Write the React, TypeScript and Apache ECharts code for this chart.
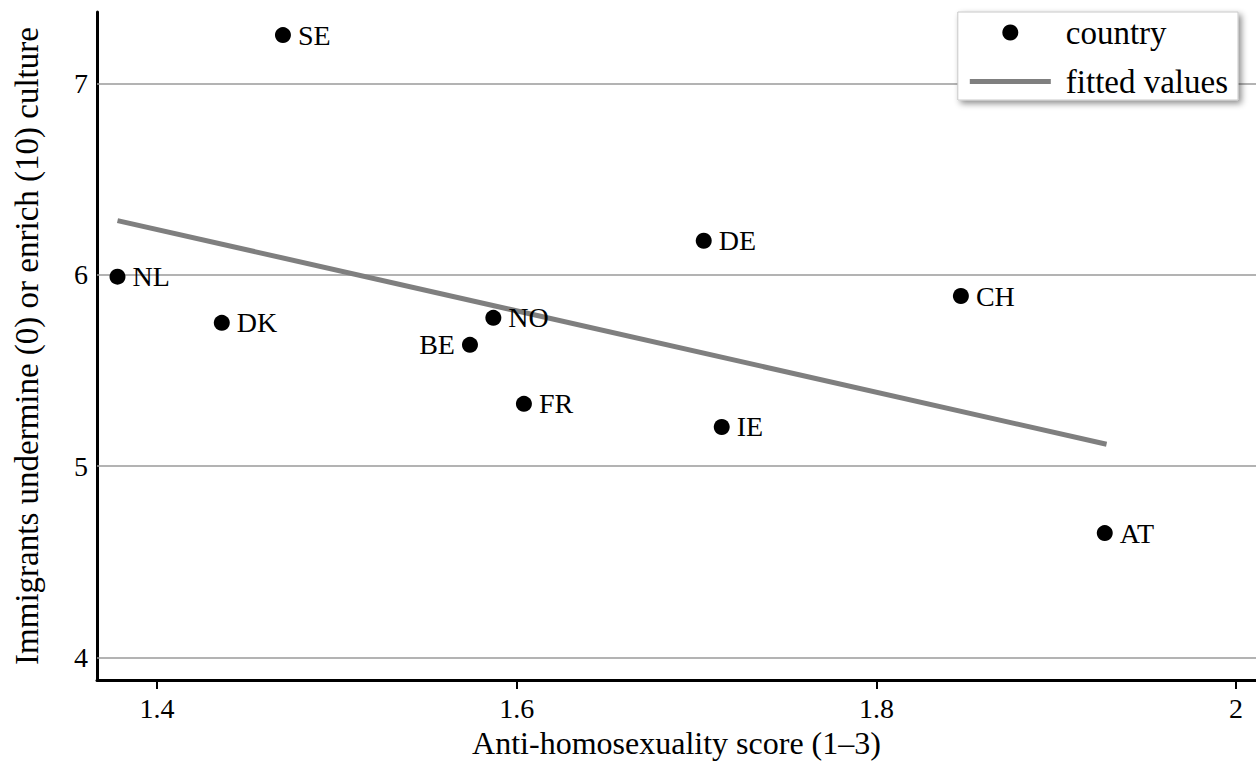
import React, { useEffect, useRef } from "react";
import * as echarts from "echarts";

const countries = ["SE", "NL", "DK", "BE", "NO", "FR", "DE", "IE", "CH", "AT"];
const antiHomosexuality = [1.470, 1.378, 1.436, 1.574, 1.587, 1.604, 1.704, 1.714, 1.847, 1.927];
const cultureScore = [7.252, 5.990, 5.749, 5.634, 5.775, 5.326, 6.178, 5.205, 5.889, 4.651];
const labelSide = ["right", "right", "right", "left", "right", "right", "right", "right", "right", "right"];

const fittedX = [1.378, 1.928];
const fittedY = [6.283, 5.115];

const xTicks = [1.4, 1.6, 1.8, 2];
const yTicks = [4, 5, 6, 7];

const xRange = [1.3666, 2.0111];
const yRange = [3.8835, 7.3725];

const FONT = "Liberation Serif";

export default function App() {
  const ref = useRef<HTMLDivElement>(null);
  useEffect(() => {
    if (!ref.current) return;
    const chart = echarts.init(ref.current, null, { renderer: "svg" });
    const scatterData = countries.map((c, i) => ({
      value: [antiHomosexuality[i], cultureScore[i]],
      name: c,
      label: { position: labelSide[i] },
    }));
    chart.setOption({
      animation: false,
      backgroundColor: "#ffffff",
      textStyle: { fontFamily: FONT },
      grid: { left: 97, top: 12, right: 0, bottom: 99, containLabel: false },
      legend: {
        data: [
          { name: "country", icon: "circle" },
          { name: "fitted values", icon: "path://M0,0 L81,0 L81,5 L0,5 Z" },
        ],
        orient: "vertical",
        right: 18,
        top: 12,
        itemWidth: 81,
        itemHeight: 16,
        itemGap: 16,
        padding: [4, 10, 2, 12],
        backgroundColor: "#ffffff",
        borderColor: "#c8c8c8",
        borderWidth: 1,
        shadowBlur: 6,
        shadowOffsetX: 3,
        shadowOffsetY: 3,
        shadowColor: "rgba(0,0,0,0.45)",
        textStyle: { fontFamily: FONT, fontSize: 33, color: "#000", lineHeight: 32, padding: [0, 0, 0, 10] },
      },
      xAxis: {
        type: "value",
        min: xRange[0],
        max: xRange[1],
        name: "Anti-homosexuality score (1–3)",
        nameLocation: "middle",
        nameGap: 32,
        nameTextStyle: { fontFamily: FONT, fontSize: 32, color: "#000" },
        axisLine: { onZero: false, lineStyle: { color: "#000", width: 3 } },
        axisTick: { show: true, customValues: xTicks, length: 9, lineStyle: { color: "#000", width: 2 } },
        axisLabel: {
          customValues: xTicks,
          margin: 14,
          fontFamily: FONT,
          fontSize: 28,
          color: "#000",
          formatter: (v: number) => String(v),
        },
        splitLine: { show: false },
      },
      yAxis: {
        type: "value",
        min: yRange[0],
        max: yRange[1],
        name: "Immigrants undermine (0) or enrich (10) culture",
        nameLocation: "middle",
        nameGap: 54,
        nameTextStyle: { fontFamily: FONT, fontSize: 33, color: "#000" },
        axisLine: { onZero: false, lineStyle: { color: "#000", width: 3 } },
        axisTick: { show: false },
        axisLabel: {
          customValues: yTicks,
          margin: 9,
          fontFamily: FONT,
          fontSize: 28,
          color: "#000",
          formatter: (v: number) => String(v),
        },
        splitLine: { show: false },
      },
      series: [
        {
          name: "gridlines",
          type: "line",
          data: [],
          silent: true,
          z: 1,
          markLine: {
            silent: true,
            symbol: "none",
            z: 1,
            label: { show: false },
            lineStyle: { color: "#9a9a9a", width: 1.5, type: "solid" },
            data: yTicks.map((v) => ({ yAxis: v })),
          },
        },
        {
          name: "fitted values",
          type: "line",
          data: fittedX.map((x, i) => [x, fittedY[i]]),
          symbol: "none",
          showSymbol: false,
          z: 3,
          lineStyle: { color: "#7f7f7f", width: 5 },
          itemStyle: { color: "#7f7f7f" },
        },
        {
          name: "country",
          type: "scatter",
          data: scatterData,
          symbol: "circle",
          symbolSize: 16,
          z: 4,
          itemStyle: { color: "#000", opacity: 1 },
          label: {
            show: true,
            formatter: (p: any) => p.name,
            distance: 7,
            fontFamily: FONT,
            fontSize: 28,
            color: "#000",
          },
        },
      ],
    });
    return () => chart.dispose();
  }, []);
  return (
    <div
      ref={ref}
      style={{ position: "fixed", left: 0, top: 0, width: 1256, height: 779 }}
    />
  );
}
